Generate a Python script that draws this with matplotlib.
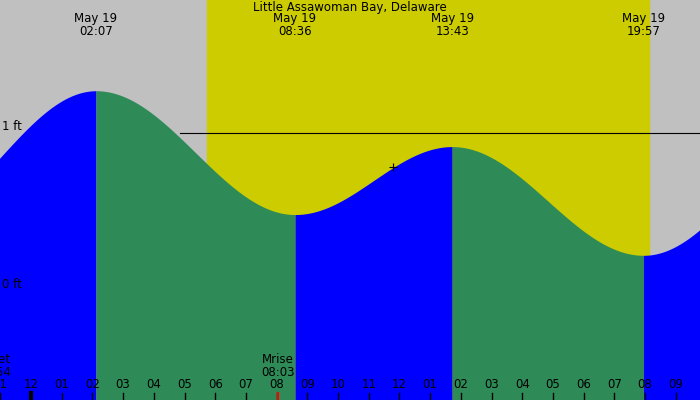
import numpy as np
import matplotlib.pyplot as plt

# tide extremes (hours from midnight May 19, height in ft); first/last are off-chart
ext_t = [-4.1, 2.117, 8.6, 13.717, 19.95, 26.1]
ext_h = [0.40, 1.28, 0.46, 0.91, 0.19, 1.02]
label_t = [2.117, 8.6, 13.717, 19.95]
label_txt = ['May 19\n02:07', 'May 19\n08:36', 'May 19\n13:43', 'May 19\n19:57']
sunrise, sunset = 5.73, 20.13
moonrise = 8.05
hour_labels = ['11', '12', '01', '02', '03', '04', '05', '06', '07', '08', '09', '10',
               '11', '12', '01', '02', '03', '04', '05', '06', '07', '08', '09']
hour_vals = list(range(-1, 22))

px_per_h = 30.7
x0 = -31 / px_per_h
x1 = (700 - 31) / px_per_h
y_top = 284 / 151
y_bot = -116 / 151
fs = 8.5

fig = plt.figure(figsize=(7, 4), dpi=100)
ax = fig.add_axes([0, 0, 1, 1])
ax.set_xlim(x0, x1)
ax.set_ylim(y_bot, y_top)
ax.axis('off')
ax.axvspan(x0, x1, color='#c0c0c0', zorder=0)
ax.axvspan(sunrise, sunset, color='#cccc00', zorder=0)

for i in range(len(ext_t) - 1):
    ta, tb = ext_t[i], ext_t[i + 1]
    ha, hb = ext_h[i], ext_h[i + 1]
    t = np.linspace(ta, tb, 200)
    h = ha + (hb - ha) * (1 - np.cos(np.pi * (t - ta) / (tb - ta))) / 2
    col = '#0000ff' if hb > ha else '#2e8b57'
    ax.fill_between(t, y_bot, h, color=col, lw=0, zorder=1)

ax.plot([(180 - 31) / px_per_h, x1], [1, 1], color='black', lw=0.8, zorder=2)
ax.text(x0 + 2 / px_per_h, 1.0, '1 ft', fontsize=fs, ha='left', va='bottom', zorder=3)
ax.text(x0 + 2 / px_per_h, 0.0, '0 ft', fontsize=fs, ha='left', va='center', zorder=3)
ax.plot([(393 - 31) / px_per_h], [(284 - 167) / 151], marker='+', color='black', ms=6, mew=0.8, zorder=3)

for t, s in zip(label_t, label_txt):
    ax.text(t, (284 - 38) / 151, s, fontsize=fs, ha='center', va='bottom', linespacing=1.0, zorder=3)
ax.text((350 - 31) / px_per_h, y_top - 1 / 151, 'Little Assawoman Bay, Delaware', fontsize=fs,
        ha='center', va='top', zorder=3)

ylab = (284 - 384) / 151
for v, s in zip(hour_vals, hour_labels):
    ax.text(v, ylab, s, fontsize=fs, ha='center', va='center', zorder=3)
    lw = 3 if v == 0 else 1
    ax.plot([v, v], [(284 - 393) / 151, y_bot], color='black', lw=lw, zorder=3)
ax.plot([moonrise, moonrise], [(284 - 393) / 151, y_bot], color='red', lw=1.5, zorder=4)
ax.text(moonrise, (284 - 379) / 151, 'Mrise\n08:03', fontsize=fs, ha='center', va='bottom',
        linespacing=1.0, zorder=3)
ax.text(x0 + 11 / px_per_h, (284 - 379) / 151, 'set\n:54', fontsize=fs, ha='right', va='bottom',
        linespacing=1.0, zorder=3)

fig.savefig('out.png', dpi=100)
